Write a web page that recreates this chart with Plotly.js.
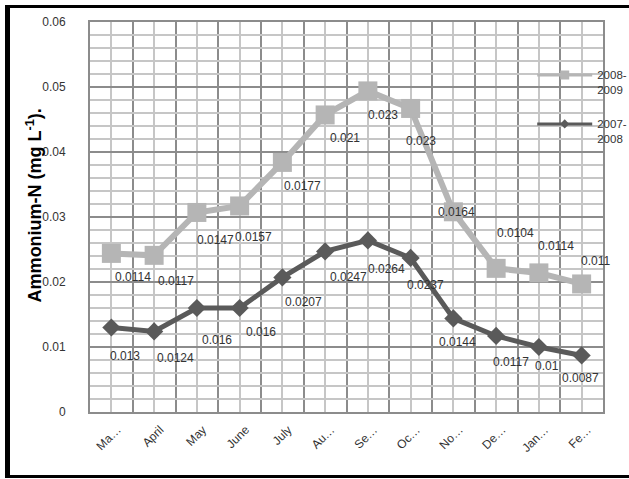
<!DOCTYPE html>
<html>
<head>
<meta charset="utf-8">
<script src="https://cdn.plot.ly/plotly-3.0.1.min.js"></script>
<style>
  html, body { margin: 0; padding: 0; background: #fff; overflow: hidden; }
  #wrap { position: relative; width: 629px; height: 479px; overflow: hidden; }
  #chart { width: 629px; height: 479px; }
  #frame { position: absolute; left: 5px; top: 5px; width: 700px; height: 473px;
           box-sizing: border-box; border: 3px solid #000; border-left-width: 5px;
           pointer-events: none; }
</style>
</head>
<body>
<div id="wrap">
  <div id="chart"></div>
  <div id="frame"></div>
</div>
<script>
// ---- data ----
const months = ['March','April','May','June','July','August','September','October','November','December','January','February'];
const tickLabels = ['Ma\u2026','April','May','June','July','Au\u2026','Se\u2026','Oc\u2026','No\u2026','De\u2026','Jan\u2026','Fe\u2026'];
const series2007 = [0.013,0.0124,0.016,0.016,0.0207,0.0247,0.0264,0.0237,0.0144,0.0117,0.01,0.0087];
const series2008 = [0.0114,0.0117,0.0147,0.0157,0.0177,0.021,0.023,0.023,0.0164,0.0104,0.0114,0.011];
const name2007 = '2007-<br>2008';
const name2008 = '2008-<br>2009';
const yTitle = 'Ammonium-N (mg L<sup>-1</sup>).';

// ---- label offsets (style, px) ----
const off2008 = [[22,24],[22,26],[19,28],[14,31],[20,24],[20,23],[15,24],[10,33],[3,0],[19,-35],[17,-27],[14,-23]];
const off2007 = [[14,28],[21,27],[20,32],[21,24],[21,25],[23,26],[19,29],[15,27],[4,24],[15,26],[8,19],[-1,23]];

const LIGHT = '#b5b5b5';
const DARK = '#5a5a5a';
const idx = months.map((m, i) => i);

const traces = [
  { x: idx, y: series2007, type: 'scatter', mode: 'lines+markers', stackgroup: 'one', fill: 'none',
    line: { color: DARK, width: 5 }, marker: { symbol: 'diamond', size: 14, color: DARK },
    showlegend: false, hoverinfo: 'skip', text: months },
  { x: idx, y: series2008, type: 'scatter', mode: 'lines+markers', stackgroup: 'one', fill: 'none',
    line: { color: LIGHT, width: 6 }, marker: { symbol: 'square', size: 19, color: LIGHT },
    showlegend: false, hoverinfo: 'skip', text: months },
  // legend entries
  { x: [null], y: [null], type: 'scatter', mode: 'lines+markers', name: name2008, legendgroup: 'a',
    line: { color: LIGHT, width: 3 }, marker: { symbol: 'square', size: 9, color: LIGHT } },
  { x: [null], y: [null], type: 'scatter', mode: 'lines+markers', name: name2007, legendgroup: 'b',
    line: { color: DARK, width: 3 }, marker: { symbol: 'diamond', size: 7, color: DARK } }
];

const annotations = [];
const lblFont = { family: 'Liberation Sans, Arial, sans-serif', size: 12, color: '#333' };
series2007.forEach((v, i) => {
  annotations.push({ x: i, y: v, xref: 'x', yref: 'y', text: String(v), showarrow: false,
    xshift: off2007[i][0], yshift: -off2007[i][1], font: lblFont });
});
series2008.forEach((v, i) => {
  annotations.push({ x: i, y: series2007[i] + v, xref: 'x', yref: 'y', text: String(v), showarrow: false,
    xshift: off2008[i][0], yshift: -off2008[i][1], font: lblFont });
});
// y-axis title
annotations.push({ xref: 'paper', yref: 'paper', x: -0.109, y: 0.53, xanchor: 'center', yanchor: 'middle',
  textangle: -90, showarrow: false, text: yTitle,
  font: { family: 'Liberation Sans, Arial, sans-serif', size: 18, color: '#000', weight: 'bold' } });

const layout = {
  width: 629, height: 479,
  margin: { l: 90, r: 26, t: 22, b: 67, autoexpand: false },
  paper_bgcolor: '#fff', plot_bgcolor: '#fff',
  font: { family: 'Liberation Sans, Arial, sans-serif', size: 12, color: '#333' },
  showlegend: true,
  legend: { x: 0.862, xanchor: 'left', y: 0.9, yanchor: 'top', valign: 'top',
            bgcolor: 'rgba(0,0,0,0)', traceorder: 'grouped', tracegroupgap: 16,
            font: { size: 11.5, color: '#333' }, itemwidth: 55 },
  xaxis: {
    type: 'linear', range: [-0.5, 11.5], tickmode: 'array', tickvals: idx, ticktext: tickLabels,
    tickangle: -45, ticks: '', ticklabelstandoff: 4, ticklabelshift: 6, tickfont: { size: 12 },
    showgrid: true, gridcolor: '#c6c6c6', gridwidth: 2,
    minor: { tickmode: 'linear', tick0: -0.5, dtick: 1, showgrid: true, gridcolor: '#8c8c8c', gridwidth: 2, ticks: '' },
    showline: true, linecolor: '#8c8c8c', linewidth: 2, mirror: true, zeroline: false, fixedrange: true,
    automargin: false
  },
  yaxis: {
    range: [0, 0.06], tickmode: 'linear', tick0: 0, dtick: 0.01, ticks: '', ticklabelstandoff: 20,
    tickfont: { size: 12 },
    showgrid: true, gridcolor: '#8c8c8c', gridwidth: 2,
    minor: { dtick: 0.002, showgrid: true, gridcolor: '#c6c6c6', gridwidth: 2, ticks: '' },
    showline: true, linecolor: '#8c8c8c', linewidth: 2, mirror: true, zeroline: false,
    automargin: false, fixedrange: true
  },
  annotations: annotations
};

Plotly.newPlot('chart', traces, layout, { displayModeBar: false, staticPlot: true });
</script>
</body>
</html>
